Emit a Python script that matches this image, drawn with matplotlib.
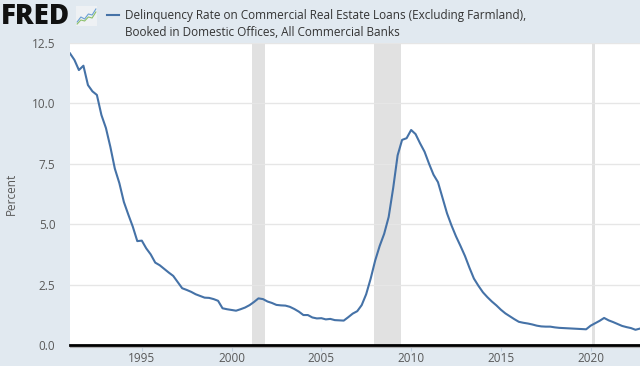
import matplotlib
matplotlib.use("Agg")
import matplotlib.pyplot as plt
import matplotlib.dates as mdates
import pandas as pd

plt.rcParams['font.family'] = ['Open Sans', 'DejaVu Sans']

# Quarterly delinquency rate (percent), 1991Q1 .. 2022Q4
dates = pd.date_range("1991-01-01", "2022-10-01", freq="QS")
rate = [
    12.07, 11.80, 11.38, 11.56,  # 1991
    10.76, 10.50, 10.35, 9.52,   # 1992
    8.98, 8.20, 7.30, 6.70,      # 1993
    5.92, 5.40, 4.90, 4.30,      # 1994
    4.32, 4.00, 3.75, 3.41,      # 1995
    3.30, 3.15, 3.00, 2.86,      # 1996
    2.60, 2.35, 2.28, 2.20,      # 1997
    2.10, 2.03, 1.96, 1.95,      # 1998
    1.90, 1.83, 1.52, 1.48,      # 1999
    1.45, 1.42, 1.48, 1.55,      # 2000
    1.65, 1.78, 1.93, 1.90,      # 2001
    1.80, 1.74, 1.66, 1.64,      # 2002
    1.63, 1.58, 1.49, 1.38,      # 2003
    1.24, 1.24, 1.14, 1.10,      # 2004
    1.11, 1.06, 1.08, 1.03,      # 2005
    1.02, 1.01, 1.15, 1.30,      # 2006
    1.40, 1.65, 2.10, 2.75,      # 2007
    3.50, 4.10, 4.60, 5.30,      # 2008
    6.50, 7.85, 8.49, 8.56,      # 2009
    8.90, 8.73, 8.35, 8.00,      # 2010
    7.50, 7.05, 6.74, 6.10,      # 2011
    5.45, 4.95, 4.50, 4.10,      # 2012
    3.68, 3.20, 2.75, 2.45,      # 2013
    2.18, 1.98, 1.80, 1.64,      # 2014
    1.46, 1.31, 1.19, 1.07,      # 2015
    0.96, 0.92, 0.89, 0.85,      # 2016
    0.80, 0.77, 0.76, 0.76,      # 2017
    0.73, 0.71, 0.70, 0.69,      # 2018
    0.68, 0.67, 0.66, 0.65,      # 2019
    0.80, 0.90, 1.00, 1.12,      # 2020
    1.02, 0.95, 0.87, 0.79,      # 2021
    0.74, 0.70, 0.63, 0.68,      # 2022
]

# NBER recessions
recessions = [("2001-03-01", "2001-11-01"),
              ("2007-12-01", "2009-06-01"),
              ("2020-02-01", "2020-04-01")]

y_ticks = [0.0, 2.5, 5.0, 7.5, 10.0, 12.5]
x_tick_years = [1995, 2000, 2005, 2010, 2015, 2020]

series_title = ("Delinquency Rate on Commercial Real Estate Loans (Excluding Farmland),\n"
                "Booked in Domestic Offices, All Commercial Banks")

# little chart icon next to the logo
logo_icon_a = [0.2, 0.45, 0.35, 0.6, 0.55, 0.85]
logo_icon_b = [0.1, 0.3, 0.25, 0.45, 0.4, 0.7]

bg = "#e1e9f0"
line_color = "#4572a7"
text_color = "#595959"

fig = plt.figure(figsize=(6.4, 3.66), dpi=100, facecolor=bg)
ax = fig.add_axes([70 / 640, 1 - 345 / 366, 570 / 640, 302 / 366])
ax.set_facecolor("white")

for start, end in recessions:
    ax.axvspan(pd.Timestamp(start), pd.Timestamp(end), color="#e1e1e1", lw=0, zorder=1)

ax.plot(dates, rate, color=line_color, lw=1.5, zorder=3)

ax.set_ylim(0, 12.5)
ax.set_xlim(dates[0], dates[-1])
ax.set_yticks(y_ticks)
ax.set_yticklabels([f"{v:.1f}" for v in y_ticks])
ax.set_xticks([pd.Timestamp(f"{y}-01-01") for y in x_tick_years])
ax.xaxis.set_major_formatter(mdates.DateFormatter("%Y"))
ax.grid(axis="y", color="#e6e6e6", lw=1, zorder=0)
ax.axhline(0, color="black", lw=2, zorder=4, clip_on=False)

for side in ["top", "right", "left"]:
    ax.spines[side].set_visible(False)
ax.spines["bottom"].set_color("#b0b0b0")
ax.spines["bottom"].set_position(("outward", 1.5))

ax.tick_params(axis="y", length=0, pad=10.5, labelsize=8.5, labelcolor=text_color)
ax.tick_params(axis="x", length=3, color="#c0d0e0", pad=0.5, labelsize=8.5, labelcolor=text_color)
ax.set_ylabel("Percent", color=text_color, fontsize=8.5, labelpad=10)

# header
fig.text(1 / 640, 1 - 16 / 366, "FRED", fontsize=20, fontweight="heavy",
         color="#111111", va="center", ha="left")
icon = fig.add_axes([76 / 640, 1 - 26 / 366, 21 / 640, 20 / 366])
icon.set_facecolor("#eef1f4")
icon.plot(range(len(logo_icon_a)), logo_icon_a, color="#6a9fd4", lw=0.8)
icon.plot(range(len(logo_icon_b)), logo_icon_b, color="#8cc06a", lw=0.8)
icon.set_xlim(-0.3, len(logo_icon_a) - 0.7)
icon.set_ylim(0, 1)
icon.set_xticks([])
icon.set_yticks([])
for s in icon.spines.values():
    s.set_visible(False)

fig.add_artist(plt.Line2D([107 / 640, 119 / 640], [1 - 15 / 366, 1 - 15 / 366],
                          color=line_color, lw=1.5))
fig.text(125 / 640, 1 - 24 / 366, series_title, fontsize=8.5, color="#333333",
         va="center", ha="left", linespacing=1.35)

fig.savefig("out.png", dpi=100, facecolor=bg)
